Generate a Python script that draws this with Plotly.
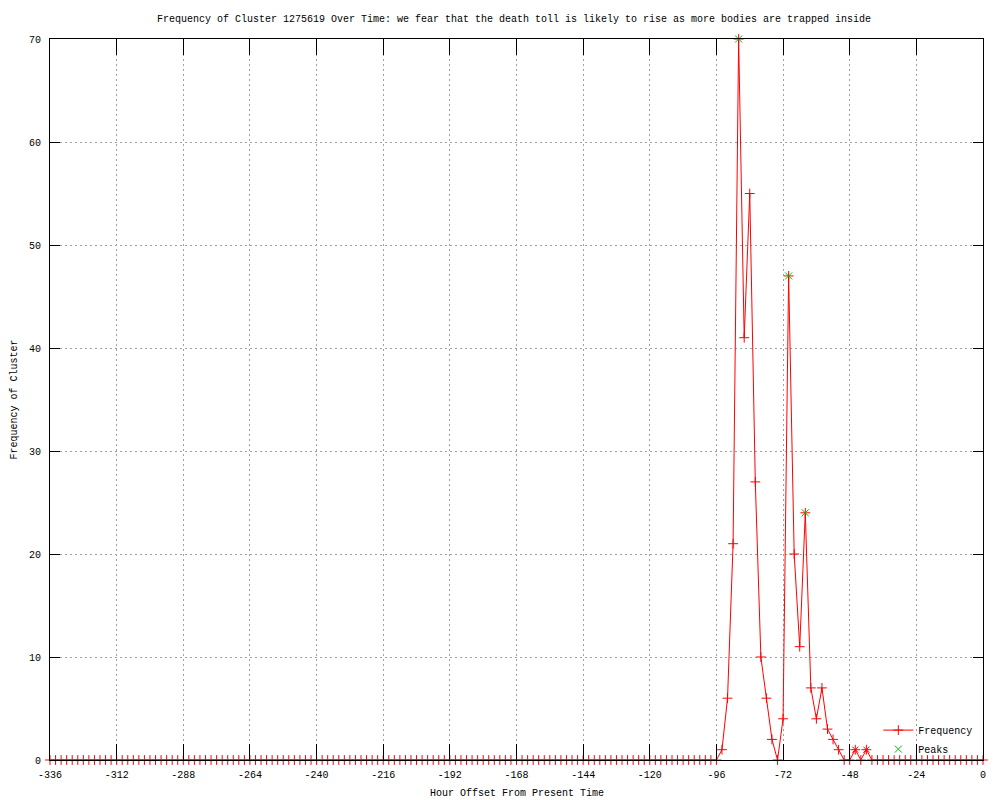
import plotly.graph_objects as go

# Data: hour offsets (2-hour bins) and cluster frequencies
hours = list(range(-336, 1, 2))
freq = ([0] * 120
        + [0, 1, 6, 21, 70, 41, 55, 27, 10, 6, 2, 0, 4, 47, 20, 11, 24, 7, 4, 7,
           3, 2, 1, 0, 0, 1, 0, 1, 0]
        + [0] * 20)
peak_hours = [-88, -70, -64]
peak_vals = [70, 47, 24]
star_hours = [-46, -42]
star_vals = [1, 1]

x_ticks = list(range(-336, 1, 24))
x_ticklabels = [str(v).replace("\u2212", "-") for v in x_ticks]
y_ticks = list(range(0, 71, 10))

FONT = "Liberation Mono"
W, H = 1000, 800
M_L, M_R, M_T, M_B = 50, 17, 39, 40
PLOT_H = H - M_T - M_B

fig = go.Figure()
fig.add_trace(go.Scatter(
    x=hours, y=freq, mode="lines+markers", name="Frequency",
    line=dict(color="#ff0000", width=1),
    marker=dict(symbol="cross-thin", size=7, color="#ff0000",
                line=dict(color="#ff0000", width=1)),
    cliponaxis=False,
))
fig.add_trace(go.Scatter(
    x=star_hours, y=star_vals, mode="markers", showlegend=False,
    marker=dict(symbol="x-thin", size=6, color="#ff0000",
                line=dict(color="#ff0000", width=1)),
    cliponaxis=False,
))
fig.add_trace(go.Scatter(
    x=peak_hours, y=peak_vals, mode="markers", name="Peaks",
    marker=dict(symbol="x-thin", size=7, color="#00c000",
                line=dict(color="#00c000", width=1)),
    cliponaxis=False,
))

axis_common = dict(
    showline=True, linecolor="black", linewidth=1, mirror="ticks",
    ticks="inside", tickcolor="black", tickwidth=1, automargin=False,
    showgrid=True, gridcolor="#a0a0a0", griddash="2px,3px", gridwidth=1,
    zeroline=False, tickfont=dict(family=FONT, size=10, color="black"),
)

fig.update_xaxes(
    range=[-336, 0], tickvals=x_ticks, ticktext=x_ticklabels, ticklen=16,
    ticklabelstandoff=5,
    **axis_common,
)
fig.update_yaxes(
    range=[0, 70], tickvals=y_ticks, ticktext=[str(v) for v in y_ticks],
    ticklen=10, ticklabelstandoff=6,
    title=dict(text="Frequency of Cluster",
               font=dict(family=FONT, size=10, color="black"), standoff=9),
    **axis_common,
)

fig.add_annotation(
    text="Hour Offset From Present Time", xref="paper", yref="paper",
    x=0.5, y=-33 / PLOT_H, xanchor="center", yanchor="middle",
    showarrow=False, font=dict(family=FONT, size=10, color="black"),
)

fig.update_layout(
    width=W, height=H,
    margin=dict(l=M_L, r=M_R, t=M_T, b=M_B),
    paper_bgcolor="white", plot_bgcolor="white",
    title=dict(
        text="Frequency of Cluster 1275619 Over Time: we fear that the death toll is likely to rise as more bodies are trapped inside",
        font=dict(family=FONT, size=10, color="black"),
        x=514 / W, xanchor="center", xref="container",
        y=1 - 18 / H, yanchor="middle", yref="container",
    ),
    legend=dict(
        x=0.995, y=-0.005, xanchor="right", yanchor="bottom",
        bgcolor="rgba(0,0,0,0)", font=dict(family=FONT, size=10, color="black"),
        tracegroupgap=0, itemwidth=30,
    ),
    showlegend=True,
)

fig.write_html(
    "out.html",
    config={"displayModeBar": False},
    post_script="document.body.style.margin='0';document.body.style.overflow='hidden';",
)
